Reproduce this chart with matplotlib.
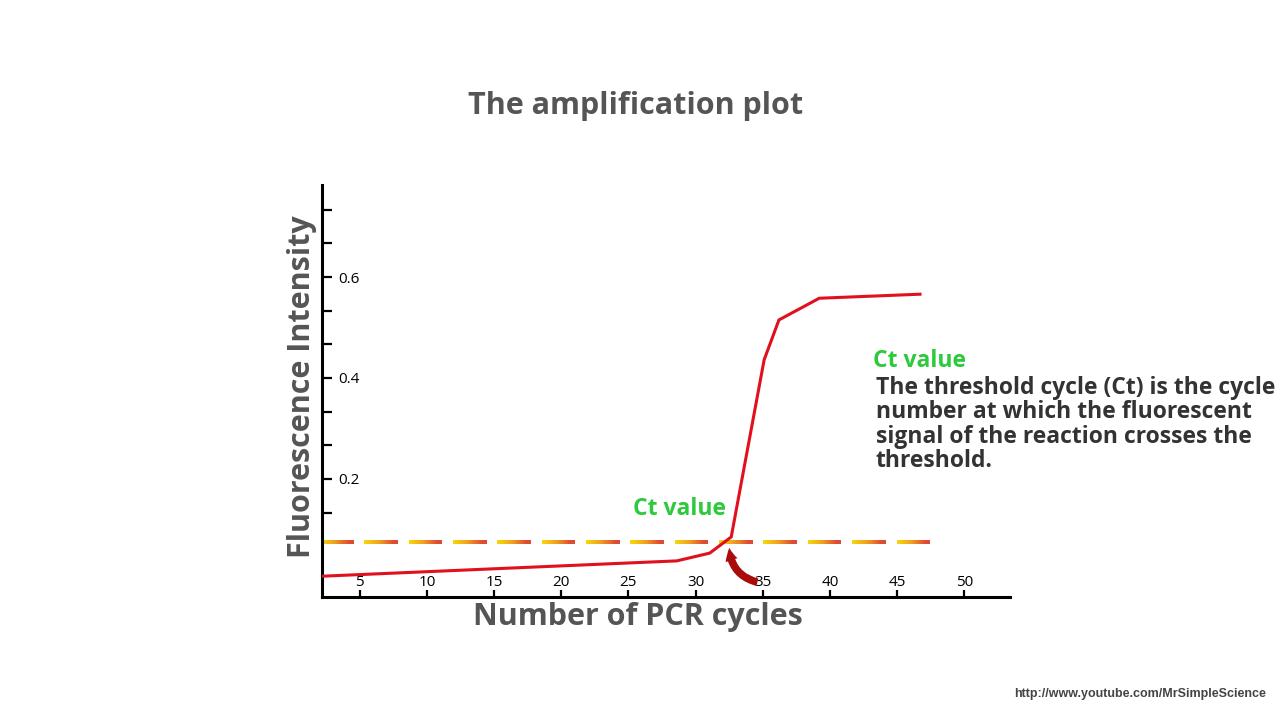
import numpy as np
import matplotlib
matplotlib.use('Agg')
import matplotlib.pyplot as plt
from matplotlib.collections import LineCollection
from matplotlib.colors import LinearSegmentedColormap

plt.rcParams['font.family'] = ['Open Sans', 'DejaVu Sans']

# amplification curve
cycles = [2.0, 28.6, 31.05, 32.65, 35.1, 36.2, 39.2, 46.7]
fluorescence = [0.007, 0.0376, 0.053, 0.085, 0.436, 0.515, 0.558, 0.566]

threshold = 0.075
threshold_span = [2.2, 47.5]
ct_cycle = 32.5

x_ticks = [5, 10, 15, 20, 25, 30, 35, 40, 45, 50]
y_ticks = [k / 15 for k in range(2, 12)]
y_tick_labels = {0.2: '0.2', 0.4: '0.4', 0.6: '0.6'}

title = 'The amplification plot'
xlabel = 'Number of PCR cycles'
ylabel = 'Fluorescence Intensity'
ct_label = 'Ct value'
ct_text = ('The threshold cycle (Ct) is the cycle\n'
           'number at which the fluorescent\n'
           'signal of the reaction crosses the\n'
           'threshold.')
credit = 'http://www.youtube.com/MrSimpleScience'

fig = plt.figure(figsize=(12.8, 7.2), dpi=100)
ax = fig.add_axes([0.2516, 0.1708, 0.5375, 0.572])
ax.set_xlim(2.2, 53.4)
ax.set_ylim(-0.034, 0.782)

for s in ['top', 'right']:
    ax.spines[s].set_visible(False)
for s in ['left', 'bottom']:
    ax.spines[s].set_linewidth(2.2)
    ax.spines[s].set_color('black')

# dashed threshold, each dash fading yellow -> orange red
cmap = LinearSegmentedColormap.from_list('dash', ['#f6d60a', '#f0a020', '#de4a32'])
dash_len, gap_len = 2.2, 1.1
segs, cols = [], []
start = threshold_span[0]
while start < threshold_span[1]:
    end = min(start + dash_len, threshold_span[1])
    xs = np.linspace(start, end, 30)
    for i in range(len(xs) - 1):
        segs.append([(xs[i], threshold), (xs[i + 1], threshold)])
        cols.append(cmap(i / (len(xs) - 2)))
    start += dash_len + gap_len
ax.add_collection(LineCollection(segs, colors=cols, linewidths=2.7,
                                 capstyle='projecting', antialiased=False, zorder=2))

ax.plot(cycles, fluorescence, color='#e0101c', lw=2.2, zorder=3, solid_joinstyle='miter')

# curved arrow pointing at the crossing
ax.annotate('', xy=(ct_cycle, threshold - 0.006), xytext=(34.8, -0.006),
            arrowprops=dict(arrowstyle='simple,head_length=0.9,head_width=0.9,tail_width=0.55',
                            connectionstyle='arc3,rad=-0.4', color='#a80c0c', lw=0),
            zorder=4)

ax.set_xticks(x_ticks)
ax.set_xticklabels([str(v) for v in x_ticks])
ax.tick_params(axis='x', direction='in', length=5, width=1.6, pad=-5, labelsize=11)

ax.set_yticks(y_ticks)
ax.set_yticklabels([y_tick_labels.get(round(v, 2), '') for v in y_ticks])
ax.tick_params(axis='y', direction='in', length=7, width=1.6, pad=-11.5, labelsize=11)
for lab in ax.get_yticklabels():
    lab.set_horizontalalignment('left')
for lab in ax.get_xticklabels():
    lab.set_verticalalignment('bottom')

ax.text(28.8, 0.14, ct_label, color='#2ec93c', fontsize=16.5, fontweight='bold',
        ha='center', va='center')

fig.text(0.4965, 0.853, title, ha='center', va='center', fontsize=22,
         fontweight='bold', color='#555555')
fig.text(0.4985, 0.143, xlabel, ha='center', va='center', fontsize=22,
         fontweight='bold', color='#555555')
fig.text(0.2358, 0.4625, ylabel, ha='center', va='center', rotation=90,
         fontsize=22, fontweight='bold', color='#555555')

fig.text(0.682, 0.499, ct_label, ha='left', va='center', fontsize=16.5,
         fontweight='bold', color='#2ec93c')
fig.text(0.684, 0.478, ct_text, ha='left', va='top', fontsize=16.5,
         fontweight='bold', color='#333333', linespacing=1.02)

fig.text(0.989, 0.036, credit, ha='right', va='center', fontsize=9,
         fontweight='bold', color='#444444',
         family=['Liberation Sans Narrow', 'Liberation Sans', 'DejaVu Sans'])

fig.savefig('out.png', dpi=100, facecolor='white')
